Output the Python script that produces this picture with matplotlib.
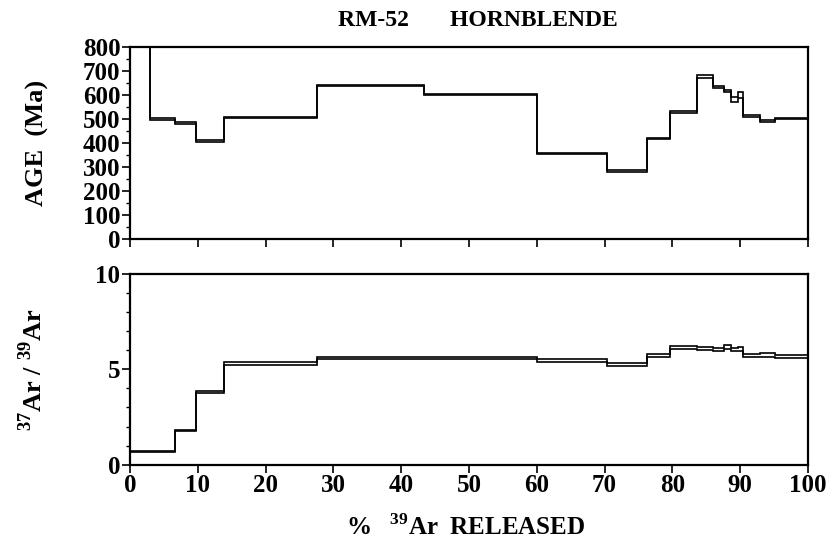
import matplotlib
matplotlib.use("Agg")
import matplotlib.pyplot as plt
import numpy as np
from matplotlib.ticker import MultipleLocator

# cumulative % 39Ar released (step edges)
edges = [0, 3.0, 6.7, 9.7, 13.9, 27.6, 43.3, 60.1, 70.4, 76.3, 79.6,
         83.6, 86.0, 87.6, 88.6, 89.6, 90.4, 92.9, 95.2, 100]
# apparent age (Ma) and 1-sigma error per step
ages = [1400, 502, 484, 410, 508, 640, 604, 358, 286, 420, 530,
        679, 634, 618, 583, 600, 514, 494, 503]
age_err = [20, 3, 4, 4, 3, 3, 3, 3, 4, 4, 4,
           7, 5, 5, 12, 12, 4, 4, 3]
# 37Ar/39Ar ratio and error per step
ratio = [0.68, 0.68, 1.80, 3.80, 5.30, 5.60, 5.60, 5.45, 5.26, 5.75, 6.13,
         6.10, 6.05, 6.18, 6.05, 6.08, 5.75, 5.74, 5.66]
ratio_err = [0.03, 0.03, 0.03, 0.06, 0.08, 0.07, 0.07, 0.08, 0.08, 0.08, 0.08,
             0.07, 0.08, 0.1, 0.08, 0.1, 0.08, 0.1, 0.08]

title = "RM-52       HORNBLENDE"

plt.rcParams['font.family'] = ['Liberation Serif', 'DejaVu Serif']
plt.rcParams['font.weight'] = 'bold'
plt.rcParams['mathtext.fontset'] = 'custom'
plt.rcParams['mathtext.rm'] = 'Liberation Serif:bold'
plt.rcParams['mathtext.bf'] = 'Liberation Serif:bold'

fig = plt.figure(figsize=(8.29, 5.47), dpi=100)
ax1 = fig.add_axes([0.1568, 0.5625, 0.8179, 0.351])
ax2 = fig.add_axes([0.1568, 0.1505, 0.8179, 0.3486])

a = np.array(ages, float); ae = np.array(age_err, float)
r = np.array(ratio, float); re = np.array(ratio_err, float)

for ax, v, e in [(ax1, a, ae), (ax2, r, re)]:
    ax.stairs(v + e, edges, baseline=None, color='black', lw=1.2)
    ax.stairs(v - e, edges, baseline=None, color='black', lw=1.2)

ax1.set_xlim(0, 100)
ax1.set_ylim(0, 800)
ax2.set_xlim(0, 100)
ax2.set_ylim(0, 10)

ax1.yaxis.set_major_locator(MultipleLocator(100))
ax1.yaxis.set_minor_locator(MultipleLocator(50))
ax2.yaxis.set_major_locator(MultipleLocator(5))
ax2.yaxis.set_minor_locator(MultipleLocator(1))
for ax in (ax1, ax2):
    ax.xaxis.set_major_locator(MultipleLocator(10))
    ax.tick_params(axis='both', which='major', direction='out', length=6,
                   width=1.2, labelsize=18, pad=1)
    ax.tick_params(axis='both', which='minor', direction='out', length=3,
                   width=1.0)
    for s in ax.spines.values():
        s.set_linewidth(1.6)
    for lab in ax.get_xticklabels() + ax.get_yticklabels():
        lab.set_fontweight('bold')

ax1.tick_params(axis='x', labelbottom=False)

ax1.set_ylabel("AGE  (Ma)", fontsize=19, fontweight='bold')
ax1.yaxis.set_label_coords(-0.119, 0.5)
ax2.set_ylabel(r"$^{37}$Ar / $^{39}$Ar", fontsize=19, fontweight='bold')
ax2.yaxis.set_label_coords(-0.122, 0.5)
ax2.set_xlabel(r"%   $^{39}$Ar  RELEASED", fontsize=18, fontweight='bold')
ax2.xaxis.set_label_coords(0.495, -0.262)
fig.text(0.577, 0.962, title, ha='center', va='center', fontsize=17, fontweight='bold')

fig.savefig("out.png", dpi=100)
